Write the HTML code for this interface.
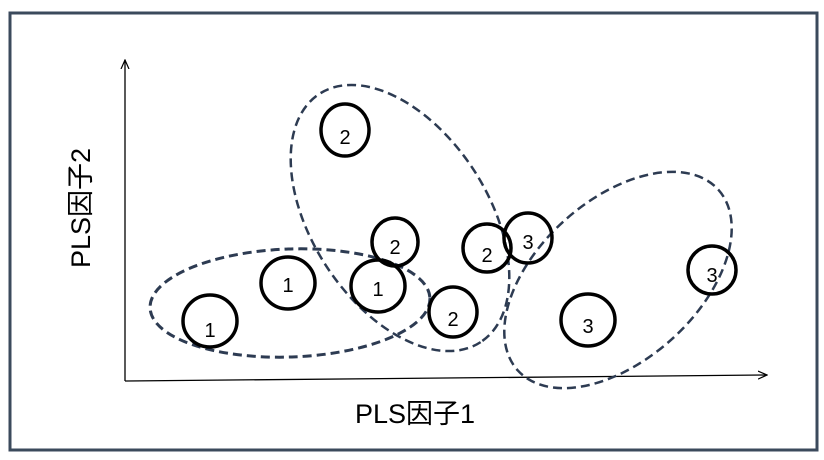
<!DOCTYPE html>
<html><head><meta charset="utf-8"><style>
html,body{margin:0;padding:0;background:#fff;width:824px;height:460px;overflow:hidden}
</style></head><body>
<svg width="824" height="460" xmlns="http://www.w3.org/2000/svg">
<defs><marker id="a" markerWidth="10" markerHeight="10" refX="9" refY="5" orient="auto" markerUnits="userSpaceOnUse"><path d="M0,1 L9,5 L0,9" fill="none" stroke="#000" stroke-width="1.2"/></marker></defs>
<rect x="10" y="13" width="807" height="437" fill="#fff" stroke="#3b4a5c" stroke-width="3"/>
<line x1="125" y1="381" x2="125" y2="60" stroke="#000" stroke-width="1.3" marker-end="url(#a)"/>
<line x1="125" y1="381" x2="767" y2="375" stroke="#000" stroke-width="1.3" marker-end="url(#a)"/>
<g fill="none" stroke="#2d3b52" stroke-width="3" stroke-dasharray="9,5">
<ellipse cx="290" cy="303" rx="140" ry="54" transform="rotate(-2 290 303)"/>
<ellipse cx="400" cy="218" rx="148" ry="88" transform="rotate(57 400 218)" stroke-width="2.5"/>
<ellipse cx="618" cy="280" rx="135" ry="80" transform="rotate(-42 618 280)" stroke-width="2.5"/>
</g>
<g fill="none" stroke="#000" stroke-width="3.5">
<ellipse cx="210" cy="321" rx="27" ry="26"/>
<ellipse cx="288" cy="283" rx="27" ry="26"/>
<ellipse cx="378" cy="286" rx="27" ry="26"/>
<ellipse cx="345" cy="130" rx="24" ry="26"/>
<ellipse cx="395" cy="242" rx="23" ry="24"/>
<ellipse cx="487" cy="248" rx="24" ry="24"/>
<ellipse cx="453" cy="312" rx="24" ry="25"/>
<ellipse cx="528" cy="238" rx="24" ry="25"/>
<ellipse cx="712" cy="270" rx="24" ry="24"/>
<ellipse cx="588" cy="320" rx="27" ry="26"/>
</g>
<g font-family="Liberation Sans, sans-serif" font-size="20" text-anchor="middle" fill="#000">
<text x="210" y="337">1</text><text x="288" y="292">1</text><text x="378" y="296">1</text>
<text x="345" y="144">2</text><text x="395" y="254">2</text><text x="487" y="262">2</text><text x="453" y="326">2</text>
<text x="528" y="249">3</text><text x="712" y="282">3</text><text x="588" y="333">3</text>
</g>
<text x="415" y="423" font-family="Liberation Sans, Noto Sans CJK SC, sans-serif" font-size="27" text-anchor="middle">PLS因子1</text>
<text transform="translate(90,208) rotate(-90)" font-family="Liberation Sans, Noto Sans CJK SC, sans-serif" font-size="27" text-anchor="middle">PLS因子2</text>
</svg>
</body></html>
